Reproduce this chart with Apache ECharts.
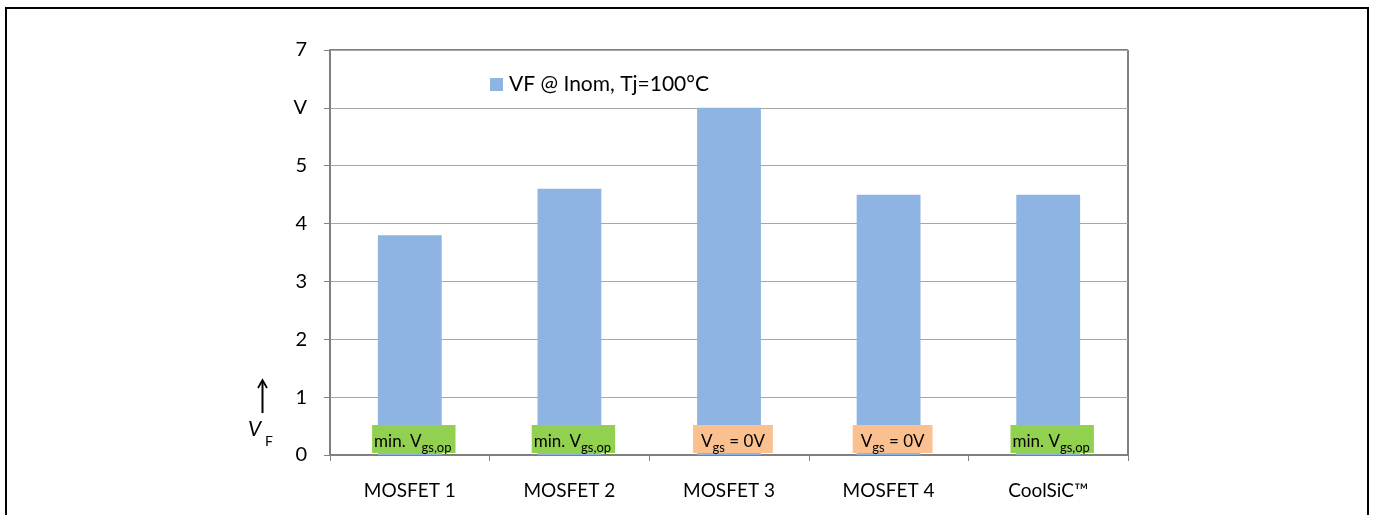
<!DOCTYPE html>
<html>
<head>
<meta charset="utf-8">
<script src="https://cdn.jsdelivr.net/npm/echarts@6/dist/echarts.min.js"></script>
<style>html,body{margin:0;padding:0;background:#fff}#c{width:1373px;height:515px}</style>
</head>
<body>
<div id="c"></div>
<script>
const categories = ['MOSFET 1', 'MOSFET 2', 'MOSFET 3', 'MOSFET 4', 'CoolSiC™'];
const vfValues = [3.8, 4.6, 6.0, 4.5, 4.5];
const yTickLabels = ['0', '1', '2', '3', '4', '5', 'V', '7'];
const gateLabels = ['minop', 'minop', 'zero', 'zero', 'minop'];
const seriesName = 'VF @ Inom, Tj=100°C';

const FONT = 'Lato, Open Sans, sans-serif';
const chart = echarts.init(document.getElementById('c'));
const labelRich = {
  a: { fontSize: 17, fontFamily: FONT, color: '#000', verticalAlign: 'bottom', lineHeight: 22 },
  s: { fontSize: 13, fontFamily: FONT, color: '#000', verticalAlign: 'bottom', lineHeight: 14, padding: [0, 0, -4, 0] }
};
const dataWithLabels = vfValues.map((v, i) => ({
  value: v,
  label: {
    backgroundColor: gateLabels[i] === 'zero' ? '#FAC090' : '#92D050',
    padding: gateLabels[i] === 'zero' ? [3, 8, 3, 8] : [3, 4, 3, 2]
  }
}));
chart.setOption({
  animation: false,
  textStyle: { fontFamily: FONT },
  graphic: [
    { type: 'rect', shape: { x: 6, y: 8, width: 1362, height: 530 }, style: { fill: 'none', stroke: '#000', lineWidth: 2 } },
    { type: 'line', shape: { x1: 262.5, y1: 413, x2: 262.5, y2: 382 }, style: { stroke: '#000', lineWidth: 2 } },
    { type: 'polyline', shape: { points: [[258, 388], [262.5, 380], [267, 388]] }, style: { stroke: '#000', lineWidth: 1.8, fill: 'none' } },
    { type: 'text', left: 248, top: 419, style: { text: 'V', fontSize: 21, fontStyle: 'italic', fontFamily: FONT, fill: '#000' } },
    { type: 'text', left: 265, top: 434, style: { text: 'F', fontSize: 14, fontFamily: FONT, fill: '#000' } }
  ],
  legend: {
    show: true, left: 485, top: 69, itemWidth: 13, itemHeight: 13, icon: 'rect', itemGap: 6,
    textStyle: { fontSize: 21, color: '#000', fontFamily: FONT, padding: [0, 0, 0, 1] },
    data: [seriesName]
  },
  grid: { left: 330, right: 245, top: 50, bottom: 60, show: true, borderColor: '#000', borderWidth: 1 },
  xAxis: {
    type: 'category', data: categories,
    axisLine: { lineStyle: { color: '#808080', width: 2 } },
    axisTick: { show: true, length: 6, lineStyle: { color: '#808080' } },
    axisLabel: { fontSize: 19, color: '#000', margin: 26, fontFamily: FONT }
  },
  yAxis: {
    type: 'value', min: 0, max: 7, interval: 1,
    axisLine: { show: true, lineStyle: { color: '#808080', width: 2 } },
    axisTick: { show: true, length: 6, lineStyle: { color: '#808080' } },
    splitLine: { lineStyle: { color: '#a6a6a6', width: 1 } },
    axisLabel: { fontSize: 20, color: '#000', margin: 23, fontFamily: FONT, formatter: (v) => yTickLabels[Math.round(v)] }
  },
  series: [{
    name: seriesName, type: 'bar', data: dataWithLabels, barWidth: '40%',
    itemStyle: { color: '#8EB4E3' },
    label: {
      show: true, position: 'insideBottom', distance: 2, offset: [4, 0],
      formatter: (p) => gateLabels[p.dataIndex] === 'zero' ? '{a|V}{s|gs}{a| = 0V}' : '{a|min. V}{s|gs,op}',
      rich: labelRich
    }
  }]
});
</script>
</body>
</html>
